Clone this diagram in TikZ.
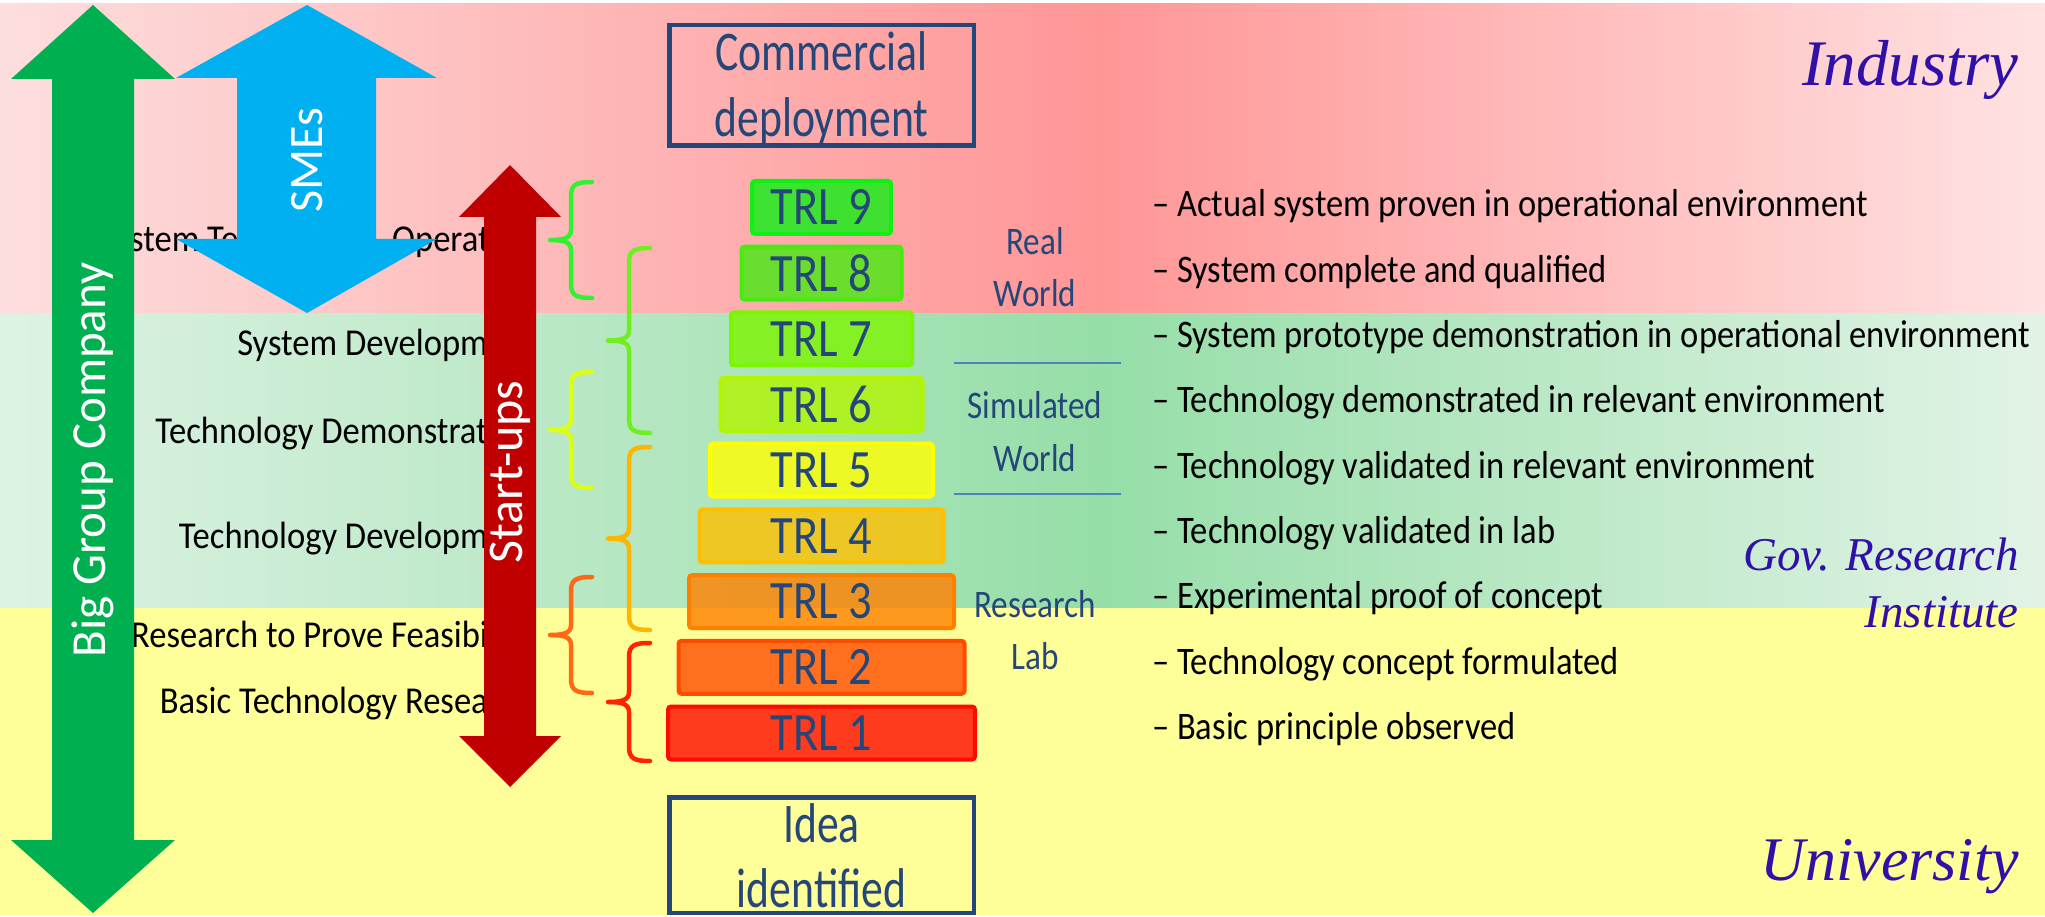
\documentclass[tikz,border=0pt]{standalone}
\usepackage{fontspec}
\newfontfamily\fLbl[FakeStretch=0.91]{Carlito}
\newfontfamily\fDesc[FakeStretch=0.885]{Carlito}
\newfontfamily\fTRL[FakeStretch=0.86]{Carlito}
\newfontfamily\fBig[FakeStretch=0.78]{Carlito}
\newfontfamily\fSide[FakeStretch=0.85]{Carlito}
\newfontfamily\fArr{Carlito}
\newfontfamily\fIt{Liberation Serif}
\definecolor{dblue}{RGB}{36,70,120}
\definecolor{indig}{RGB}{48,16,168}
\definecolor{gArr}{RGB}{0,176,80}
\definecolor{bArr}{RGB}{0,176,240}
\definecolor{rArr}{RGB}{192,0,0}
\definecolor{sepc}{RGB}{79,129,189}
\definecolor{t1}{RGB}{255,10,0}
\definecolor{t2}{RGB}{255,75,0}
\definecolor{t3}{RGB}{255,128,0}
\definecolor{t4}{RGB}{255,192,0}
\definecolor{t5}{RGB}{255,255,0}
\definecolor{t6}{RGB}{178,245,0}
\definecolor{t7}{RGB}{124,245,0}
\definecolor{t8}{RGB}{70,235,15}
\definecolor{t9}{RGB}{15,240,20}
\definecolor{rL}{RGB}{253,222,222}
\definecolor{rM}{RGB}{255,150,150}
\definecolor{rR}{RGB}{255,226,226}
\definecolor{gL}{RGB}{222,242,228}
\definecolor{gM}{RGB}{150,222,168}
\definecolor{gR}{RGB}{226,243,230}
\definecolor{yel}{RGB}{255,255,153}
\definecolor{bA1}{RGB}{50,240,50}
\definecolor{bA2}{RGB}{220,255,20}
\definecolor{bA3}{RGB}{255,105,20}
\definecolor{bB1}{RGB}{110,240,30}
\definecolor{bB2}{RGB}{255,180,0}
\definecolor{bB3}{RGB}{255,35,0}
\tikzset{
  lbl/.style={font=\fLbl\fontsize{38}{44}\selectfont, text=black, inner sep=0pt},
  desc/.style={font=\fDesc\fontsize{39}{45}\selectfont, text=black, inner sep=0pt, anchor=base west},
  trlbox/.style={draw, line width=4pt, rounded corners=3pt, inner sep=0pt, minimum height=53pt,
    fill opacity=0.8, draw opacity=1, text opacity=1, text=dblue, font=\fTRL\fontsize{54}{60}\selectfont},
  bigbox/.style={draw=dblue, line width=4.5pt, inner sep=0pt},
  bigtxt/.style={font=\fBig\fontsize{56}{60}\selectfont, text=dblue, inner sep=0pt, anchor=base},
  side/.style={font=\fSide\fontsize{39}{45}\selectfont, text=dblue, inner sep=0pt, anchor=base},
  arrtxt/.style={font=\fArr\fontsize{49}{55}\selectfont, text=white, inner sep=0pt, rotate=90},
  inst/.style={font=\fIt\itshape, text=indig, inner sep=0pt, anchor=base east},
  brcline/.style={line width=4.5pt, line cap=round, line join=round},
  sepline/.style={draw=sepc, line width=2.5pt}
}
% curly brace: x of open end, top y, bottom y, colour
\newcommand\trlbrace[4]{%
  \draw[brcline, #4]
    (#1,#2) .. controls ({#1-15},#2) and ({#1-21},{#2+2}) .. ({#1-21},{#2+14})
    -- ({#1-21},{(#2+#3)/2-10})
    .. controls ({#1-21},{(#2+#3)/2-2}) and ({#1-28},{(#2+#3)/2}) .. ({#1-42},{(#2+#3)/2})
    .. controls ({#1-28},{(#2+#3)/2}) and ({#1-21},{(#2+#3)/2+2}) .. ({#1-21},{(#2+#3)/2+10})
    -- ({#1-21},{#3-14})
    .. controls ({#1-21},{#3-2}) and ({#1-15},#3) .. (#1,#3);}
\begin{document}
\begin{tikzpicture}[x=1pt,y=-1pt]
\useasboundingbox (0,0) rectangle (2045,917);
\fill[white] (0,0) rectangle (2045,917);
% background bands
\shade[left color=rL, right color=rM] (0,4) rectangle (1100,313);
\shade[left color=rM, right color=rR] (1100,4) rectangle (2045,313);
\shade[left color=gL, right color=gM] (0,313) rectangle (1100,608);
\shade[left color=gM, right color=gR] (1100,313) rectangle (2045,608);
\fill[yel] (0,608) rectangle (2045,915);

% institution labels
\node[inst, font=\fIt\itshape\fontsize{65}{70}\selectfont] (industry) at (2019,86) {Industry};
\node[inst, font=\fIt\itshape\fontsize{47}{52}\selectfont] (gov1) at (2019,570) {Gov. Research};
\node[inst, font=\fIt\itshape\fontsize{47}{52}\selectfont] (gov2) at (2019,627) {Institute};
\node[inst, font=\fIt\itshape\fontsize{62}{68}\selectfont] (univ) at (2019,880) {University};

% left phase labels (partly hidden by arrows)
\node[lbl, anchor=base west] (l1a) at (130,252) {stem Te};
\node[lbl, anchor=base west] (l1b) at (392,252) {Operat};
\node[lbl, anchor=base east] (l2) at (488,355) {System Developm};
\node[lbl, anchor=base east] (l3) at (488,443) {Technology Demonstrat};
\node[lbl, anchor=base east] (l4) at (488,548) {Technology Developm};
\node[lbl, anchor=base east] (l5) at (488,647) {Research to Prove Feasibi};
\node[lbl, anchor=base east] (l6) at (488,713) {Basic Technology Resea};

% big arrows
\fill[gArr] (93,5) -- (175,79) -- (134,79) -- (134,840) -- (175,840) -- (93,913)
  -- (11,840) -- (52,840) -- (52,79) -- (11,79) -- cycle;
\node[arrtxt] (bgc) at (93,460) {Big Group Company};
\fill[bArr] (307,5) -- (437,78) -- (376,78) -- (376,239) -- (437,239) -- (307,313)
  -- (176,239) -- (237,239) -- (237,78) -- (176,78) -- cycle;
\node[arrtxt, font=\fArr\fontsize{48}{54}\selectfont] (smes) at (307,160) {SMEs};
\fill[rArr] (510,165) -- (561,217) -- (536,217) -- (536,736) -- (561,736) -- (510,787)
  -- (459,736) -- (484,736) -- (484,217) -- (459,217) -- cycle;
\node[arrtxt, font=\fArr\fontsize{50}{55}\selectfont] (startups) at (510,472) {Start-ups};

% braces
\trlbrace{592}{182}{298}{bA1}
\trlbrace{592}{372}{488}{bA2}
\trlbrace{592}{577}{693}{bA3}
\trlbrace{650}{248}{433}{bB1}
\trlbrace{650}{447}{630}{bB2}
\trlbrace{650}{643}{761}{bB3}

% top and bottom boxes
\node[bigbox, minimum width=304.5pt, minimum height=120.5pt] (comm) at (821.5,85.5) {};
\node[bigtxt] (comm1) at (821.5,71) {Commercial};
\node[bigtxt] (comm2) at (821.5,137) {deployment};
\node[bigbox, minimum width=304.5pt, minimum height=115.5pt] (idea) at (821.5,855) {};
\node[bigtxt] (idea1) at (821.5,842) {Idea};
\node[bigtxt] (idea2) at (821.5,907) {identified};

% TRL pyramid
\foreach \k in {1,...,9} {
  \node[trlbox, draw=t\k, fill=t\k, minimum width={(307-(\k-1)*21)*1pt}]
    (trl\k) at (821.5,{733-(\k-1)*65.7}) {TRL \k};
}

% environment labels
\node[side] (real1) at (1035,255) {Real};
\node[side] (real2) at (1035,307) {World};
\coordinate (s1a) at (954,363);
\coordinate (s1b) at (1121,363);
\draw[sepline] (s1a) -- (s1b);
\node[side] (sim1) at (1035,418) {Simulated};
\node[side] (sim2) at (1035,471) {World};
\coordinate (s2a) at (954,494);
\coordinate (s2b) at (1121,494);
\draw[sepline] (s2a) -- (s2b);
\node[side] (res1) at (1035,617) {Research};
\node[side] (res2) at (1035,669) {Lab};

% descriptions
\node[desc] (d9) at (1152,217.0) {– Actual system proven in operational environment};
\node[desc] (d8) at (1152,282.3) {– System complete and qualified};
\node[desc] (d7) at (1152,347.6) {– System prototype demonstration in operational environment};
\node[desc] (d6) at (1152,412.9) {– Technology demonstrated in relevant environment};
\node[desc] (d5) at (1152,478.2) {– Technology validated in relevant environment};
\node[desc] (d4) at (1152,543.5) {– Technology validated in lab};
\node[desc] (d3) at (1152,608.8) {– Experimental proof of concept};
\node[desc] (d2) at (1152,674.1) {– Technology concept formulated};
\node[desc] (d1) at (1152,739.4) {– Basic principle observed};
\end{tikzpicture}
\end{document}
